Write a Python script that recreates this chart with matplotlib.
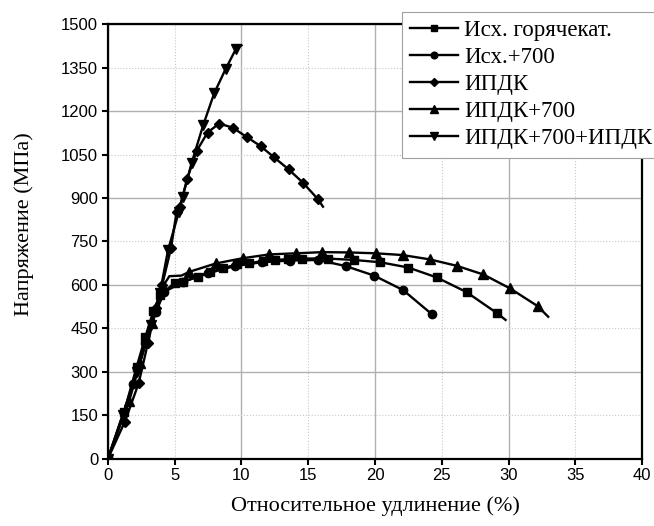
import numpy as np
from matplotlib import pyplot as plt
from matplotlib.ticker import MultipleLocator, FormatStrFormatter

# Исх. горячекат.
x_hot = [0, 1.2, 2.15, 2.8, 3.4, 3.9, 5.01, 5.64, 6.71, 7.63, 8.63, 9.63, 10.58, 11.58, 12.5,
         13.5, 14.5, 16.44, 18.44, 20.4, 22.48, 24.6, 26.85, 29.14, 29.77]
y_hot = [0, 160, 317, 420, 510, 565, 607, 611, 628, 645, 657, 671, 674, 683, 686,
         689, 691, 691, 686, 678, 660, 626, 575, 502, 479]
# Исх.+700
x_h700 = [0, 1.9, 2.8, 3.6, 4.2, 5.6, 7.5, 9.5, 11.5, 13.6, 15.74, 17.8, 19.93, 22.1, 24.27]
y_h700 = [0, 258, 400, 505, 575, 610, 640, 665, 678, 684, 686, 665, 632, 582, 498]
# ИПДК
x_hpt = [0, 1.27, 2.3, 3.0, 3.6, 4.06, 4.72, 5.14, 5.39, 5.94, 6.64, 7.46, 8.33, 9.33,
         10.38, 11.43, 12.45, 13.52, 14.62, 15.72, 16.1]
y_hpt = [0, 128, 260, 400, 520, 599, 726, 852, 870, 967, 1062, 1126, 1157, 1143,
         1111, 1079, 1040, 999, 952, 896, 870]
# ИПДК+700
x_hpt700 = [0, 1.6, 2.4, 3.3, 4.09, 4.6, 5.5, 6.09, 8.08, 10.08, 12.05, 14.05, 16.04, 18.05,
            20.06, 22.06, 24.1, 26.1, 28.1, 30.1, 32.16, 32.96]
y_hpt700 = [0, 200, 330, 470, 593, 630, 632, 645, 674, 692, 705, 709, 713, 712,
            709, 703, 688, 666, 636, 588, 527, 490]
# ИПДК+700+ИПДК
x_hpt2 = [0, 1.1, 2.2, 3.2, 3.89, 4.5, 5.3, 5.6, 6.26, 7.13, 7.96, 8.81, 9.58, 10.0]
y_hpt2 = [0, 150, 300, 460, 571, 720, 850, 905, 1020, 1151, 1262, 1345, 1414, 1427]

labels = ['Исх. горячекат.', 'Исх.+700', 'ИПДК', 'ИПДК+700', 'ИПДК+700+ИПДК']

fig = plt.figure(figsize=(6.54, 5.26), dpi=100)
ax = fig.add_axes([0.165, 0.128, 0.817, 0.826])

serif = ['Liberation Serif', 'DejaVu Serif']
sans = ['Liberation Sans', 'DejaVu Sans']

ax.plot(x_hot, y_hot, '-s', color='black', lw=1.7, ms=5.5, markevery=list(range(len(x_hot) - 1)), label=labels[0])
ax.plot(x_h700, y_h700, '-o', color='black', lw=1.7, ms=6, label=labels[1])
ax.plot(x_hpt, y_hpt, '-D', color='black', lw=1.7, ms=5.5, markevery=list(range(len(x_hpt) - 1)), label=labels[2])
tri_idx = [i for i in range(len(x_hpt700) - 1) if i not in (5, 6)]
ax.plot(x_hpt700, y_hpt700, '-^', color='black', lw=1.7, ms=6.5, markevery=tri_idx, label=labels[3])
ax.plot(x_hpt2, y_hpt2, '-v', color='black', lw=1.7, ms=6.5, markevery=list(range(len(x_hpt2) - 1)), label=labels[4])

ax.set_xlim(0, 40) ; ax.set_ylim(0, 1500)
ax.xaxis.set_major_locator(MultipleLocator(10)) ; ax.xaxis.set_minor_locator(MultipleLocator(5))
ax.yaxis.set_major_locator(MultipleLocator(300)) ; ax.yaxis.set_minor_locator(MultipleLocator(150))
ax.xaxis.set_minor_formatter(FormatStrFormatter('%d'))
ax.yaxis.set_minor_formatter(FormatStrFormatter('%d'))
ax.grid(which='major', color='#b0b0b0', lw=1.0, ls='-')
ax.grid(which='minor', color='#c8c8c8', lw=0.8, ls=':')
ax.set_axisbelow(True)
ax.tick_params(which='both', direction='out', length=4, width=1.5, labelsize=12, pad=3)
for lab in ax.get_xticklabels(which='both') + ax.get_yticklabels(which='both'):
    lab.set_family(sans)
for s in ax.spines.values():
    s.set_linewidth(1.6)

ax.set_xlabel('Относительное удлинение (%)', family=serif, fontsize=16, labelpad=9)
ax.set_ylabel('Напряжение (МПа)', family=serif, fontsize=16)
ax.yaxis.set_label_coords(-0.138, 0.54)

leg = ax.legend(loc='upper left', bbox_to_anchor=(402 / 654, 1 - 12 / 526), bbox_transform=fig.transFigure,
                prop={'family': serif, 'size': 16.5}, frameon=True, fancybox=False, framealpha=1,
                edgecolor='#a0a0a0', borderaxespad=0, borderpad=0.36, handlelength=2.1,
                handletextpad=0.25, labelspacing=0.26, markerscale=0.8)
leg.get_frame().set_linewidth(0.8)

fig.savefig('out.png', dpi=100)
